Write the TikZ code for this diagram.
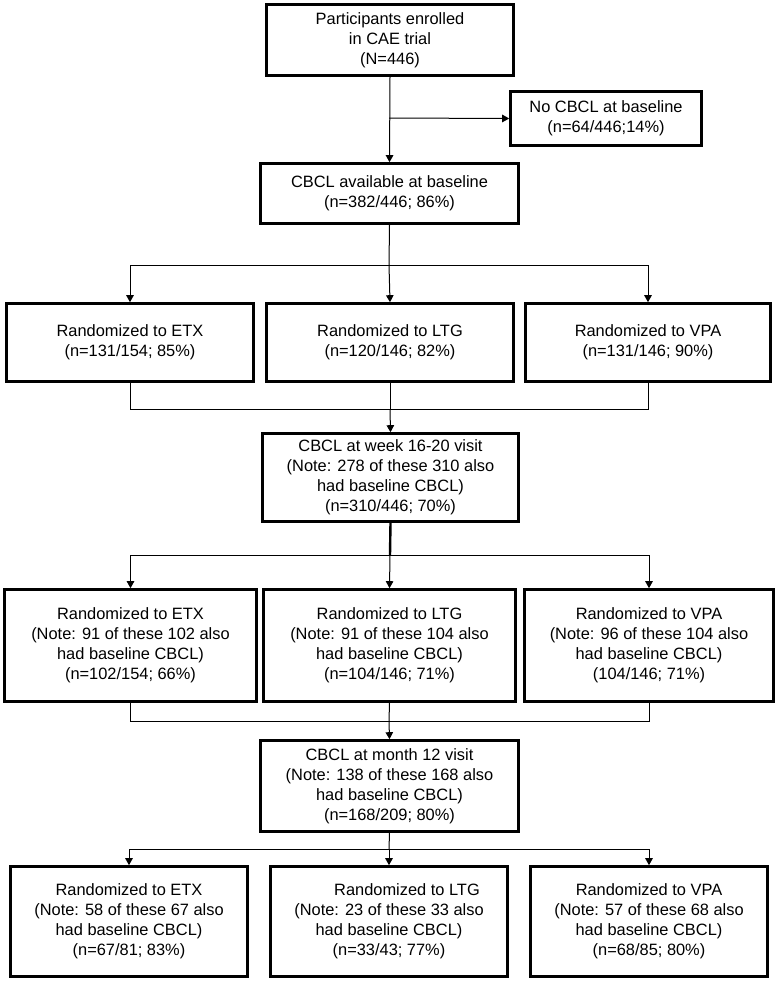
\documentclass[tikz,border=0pt]{standalone}
\usepackage{fontspec}
\setmainfont{Liberation Sans}
\usetikzlibrary{arrows.meta}
\begin{document}
\begin{tikzpicture}[x=1pt,y=-1pt,
  box/.style={draw, line width=2.6pt, align=center, inner sep=0pt,
    font=\fontsize{16.4}{20}\selectfont},
  conn/.style={line width=1pt},
  arr/.style={line width=1pt, -{Triangle[length=7pt,width=7.5pt]}}]
\useasboundingbox (0,0) rectangle (781,982);
% top
\node[box, minimum width=247, minimum height=71] (top) at (390,40)
  {Participants enrolled\\in CAE trial\\(N=446)};
\node[box, minimum width=191, minimum height=54] (nocb) at (606,118.5)
  {No CBCL at baseline\\(n=64/446;14\%)};
\node[box, minimum width=258, minimum height=60] (base) at (389.5,193.5)
  {CBCL available at baseline\\(n=382/446; 86\%)};
% row 1
\node[box, minimum width=247, minimum height=78] (r1e) at (130,342.5)
  {Randomized to ETX\\(n=131/154; 85\%)};
\node[box, minimum width=247, minimum height=78] (r1l) at (390,342.5)
  {Randomized to LTG\\(n=120/146; 82\%)};
\node[box, minimum width=245, minimum height=78] (r1v) at (648,342.5)
  {Randomized to VPA\\(n=131/146; 90\%)};
% week
\node[box, minimum width=256, minimum height=88] (week) at (390.5,477.5)
  {CBCL at week 16-20 visit\\(Note: 278 of these 310 also\\had baseline CBCL)\\(n=310/446; 70\%)};
% row 2
\node[box, minimum width=252, minimum height=112] (r2e) at (130.5,645.5)
  {Randomized to ETX\\(Note: 91 of these 102 also\\had baseline CBCL)\\(n=102/154; 66\%)};
\node[box, minimum width=252, minimum height=112] (r2l) at (389.5,645.5)
  {Randomized to LTG\\(Note: 91 of these 104 also\\had baseline CBCL)\\(n=104/146; 71\%)};
\node[box, minimum width=249, minimum height=112] (r2v) at (649,645.5)
  {Randomized to VPA\\(Note: 96 of these 104 also\\had baseline CBCL)\\(104/146; 71\%)};
% month
\node[box, minimum width=258, minimum height=91] (month) at (389.5,786)
  {CBCL at month 12 visit\\(Note: 138 of these 168 also\\had baseline CBCL)\\(n=168/209; 80\%)};
% row 3
\node[box, minimum width=237, minimum height=110] (r3e) at (129,921.5)
  {Randomized to ETX\\(Note: 58 of these 67 also\\had baseline CBCL)\\(n=67/81; 83\%)};
\node[box, minimum width=237, minimum height=110] (r3l) at (389,921.5)
  {\hspace*{36pt}Randomized to LTG\\(Note: 23 of these 33 also\\had baseline CBCL)\\(n=33/43; 77\%)};
\node[box, minimum width=237, minimum height=110] (r3v) at (649,921.5)
  {Randomized to VPA\\(Note: 57 of these 68 also\\had baseline CBCL)\\(n=68/85; 80\%)};
% junction coordinates
\coordinate (b0) at (389,118);
\coordinate (j1) at (389,265);
\coordinate (j2) at (390,409);
\coordinate (j3) at (390,555);
\coordinate (j4) at (389,721);
\coordinate (j5) at (389,849);
% connectors
\draw[arr] (top.south) -- (base.north);
\draw[arr] (b0) -- (nocb.west);
\draw[conn] (base.south) -- (j1);
\draw[conn] (r1e.north |- j1) -- (r1v.north |- j1);
\draw[arr] (r1e.north |- j1) -- (r1e.north);
\draw[arr] (j1) -- (r1l.north);
\draw[arr] (r1v.north |- j1) -- (r1v.north);
\draw[conn] (r1e.south) -- (r1e.south |- j2) -- (r1v.south |- j2) -- (r1v.south);
\draw[conn] (r1l.south) -- (j2);
\draw[arr] (j2) -- (week.north);
\draw[line width=2.4pt] (week.south) -- (j3);
\draw[conn] (r2e.north |- j3) -- (r2v.north |- j3);
\draw[arr] (r2e.north |- j3) -- (r2e.north);
\draw[arr] (j3) -- (r2l.north);
\draw[arr] (r2v.north |- j3) -- (r2v.north);
\draw[conn] (r2e.south) -- (r2e.south |- j4) -- (r2v.south |- j4) -- (r2v.south);
\draw[conn] (r2l.south) -- (j4);
\draw[arr] (j4) -- (month.north);
\draw[conn] (month.south) -- (j5);
\draw[conn] (r3e.north |- j5) -- (r3v.north |- j5);
\draw[arr] (r3e.north |- j5) -- (r3e.north);
\draw[arr] (j5) -- (r3l.north);
\draw[arr] (r3v.north |- j5) -- (r3v.north);
\end{tikzpicture}
\end{document}
